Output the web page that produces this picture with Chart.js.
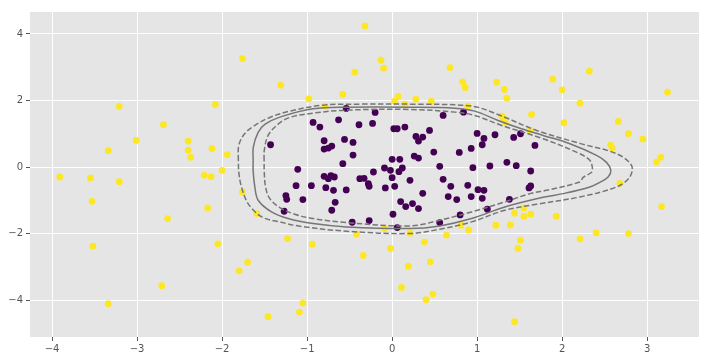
<!DOCTYPE html>
<html><head><meta charset="utf-8">
<script src="https://cdn.jsdelivr.net/npm/chart.js@4/dist/chart.umd.min.js"></script>
<style>html,body{margin:0;padding:0;background:#fff}canvas{display:block}</style>
</head><body>
<canvas id="c" width="709" height="361"></canvas>
<script>
const classA = [ // yellow
[-1.76,3.26],[-3.21,1.82],[-2.08,1.88],[-2.69,1.27],[-3.01,0.80],[-3.34,0.49],[-2.40,0.78],[-2.40,0.51],[-2.37,0.29],[-2.12,0.56],[-1.94,0.37],[-2.00,-0.10],
[-3.91,-0.30],[-3.55,-0.33],[-3.21,-0.44],[-2.21,-0.25],[-2.13,-0.29],[-3.53,-1.03],[-1.76,-0.75],[-2.17,-1.23],[-2.64,-1.55],[-1.59,-1.40],[-3.52,-2.38],[-2.05,-2.31],[-1.70,-2.86],[-1.80,-3.12],[-2.71,-3.57],[-3.34,-4.11],
[-0.32,4.24],[-0.13,3.21],[-0.10,2.97],[-0.44,2.85],[-1.31,2.46],[-0.58,2.19],[-0.98,2.05],[-0.79,1.83],[0.07,2.12],[0.03,1.98],[0.15,1.89],[0.28,2.04],[0.46,1.98],[0.68,2.99],[0.83,2.56],[0.86,2.39],[0.89,1.83],
[-1.23,-2.15],[-0.94,-2.32],[-0.42,-2.02],[-0.34,-2.66],[-0.09,-1.85],[-0.02,-2.45],[0.21,-1.99],[0.38,-2.25],[0.19,-2.98],[0.45,-2.85],[0.64,-2.05],[0.81,-1.75],[0.90,-1.89],[0.11,-3.62],[0.48,-3.82],[0.40,-3.99],[-1.05,-4.09],[-1.09,-4.36],[-1.46,-4.50],
[2.32,2.88],[1.89,2.64],[2.00,2.32],[2.21,1.92],[3.24,2.25],[1.23,2.55],[1.32,2.33],[1.35,2.07],[1.64,1.58],[2.02,1.33],[1.29,1.53],[1.31,1.46],[1.33,1.34],[1.62,1.10],[2.66,1.37],[2.78,1.00],[2.95,0.84],[2.57,0.66],[2.59,0.57],[3.16,0.29],[3.11,0.15],
[2.68,-0.49],[3.17,-1.19],[1.55,-1.23],[1.44,-1.39],[1.55,-1.48],[1.63,-1.42],[1.93,-1.48],[1.22,-1.75],[1.39,-1.74],[1.51,-2.20],[1.48,-2.45],[2.21,-2.16],[2.40,-1.98],[2.78,-2.00],[1.44,-4.65]
];
const classB = [ // purple
[-0.54,1.76],[-0.20,1.64],[0.60,1.55],[0.84,1.65],[-0.93,1.34],[-0.85,1.20],[-0.63,1.42],[-0.39,1.27],[-0.23,1.31],[0.02,1.15],[0.06,1.15],[0.15,1.20],[0.44,1.10],[1.00,1.01],[-1.43,0.67],[-0.80,0.79],[-0.80,0.54],[-0.75,0.57],[-0.71,0.63],[-0.56,0.83],[-0.46,0.74],[-0.46,0.36],[-0.58,0.10],[-1.11,-0.07],[0.28,0.92],[0.31,0.78],[0.36,0.90],[0.49,0.45],[0.26,0.33],[0.31,0.27],[0.00,0.23],[0.09,0.23],[0.79,0.44],[0.93,0.56],[0.56,0.02],[0.95,-0.02],
[-0.80,-0.28],[-0.75,-0.35],[-0.72,-0.26],[-0.68,-0.30],[-1.13,-0.56],[-0.95,-0.56],[-0.78,-0.62],[-0.69,-0.70],[-0.54,-0.69],[-0.38,-0.35],[-0.33,-0.34],[-0.28,-0.50],[-0.27,-0.58],[-0.22,-0.15],[-0.09,-0.03],[-0.02,-0.10],[0.08,-0.14],[0.12,-0.03],[0.00,-0.32],[-0.08,-0.63],[0.03,-0.58],[0.21,-0.40],[0.36,-0.79],[0.60,-0.37],[0.69,-0.58],[0.89,-0.55],[1.01,-0.68],[0.66,-0.89],[0.76,-0.98],[0.93,-0.89],[-1.25,-0.86],[-1.24,-0.97],[-1.05,-0.98],[-0.67,-1.06],[-1.27,-1.33],[-0.71,-1.30],[0.10,-1.04],[0.16,-1.19],[0.24,-1.10],[0.31,-1.25],[0.01,-1.42],[-0.47,-1.66],[-0.27,-1.61],[0.06,-1.82],[0.56,-1.67],[0.80,-1.44],
[1.08,0.86],[1.21,0.97],[1.43,0.89],[1.51,1.00],[1.06,0.67],[1.68,0.65],[1.15,0.03],[1.35,0.14],[1.46,0.04],[1.63,-0.12],
[1.08,-0.70],[1.06,-0.94],[1.61,-0.63],[1.63,-0.57],[1.38,-0.97],[1.12,-1.27]
];
const contourOuter = [
[-1.809,0.20],[-1.804,0.65],[-1.733,1.01],[-1.615,1.25],[-1.439,1.49],[-1.204,1.68],[-0.815,1.86],[-0.38,1.89],[0.208,1.89],[0.934,1.83],[1.244,1.58],[1.699,1.10],[2.208,0.71],[2.64,0.40],[2.816,0.05],[2.796,-0.30],[2.64,-0.60],[2.208,-0.90],[1.699,-1.12],[1.326,-1.30],[0.934,-1.65],[0.561,-1.87],[0.208,-2.00],[-0.536,-1.93],[-1.086,-1.78],[-1.321,-1.65],[-1.533,-1.50],[-1.694,-1.10],[-1.772,-0.60],[-1.804,-0.16],[-1.809,0.20]
];
const contourZero = [
[-1.635,0.20],[-1.633,0.60],[-1.576,1.04],[-1.498,1.28],[-1.321,1.50],[-0.929,1.75],[-0.536,1.80],[0.208,1.80],[0.738,1.77],[0.973,1.68],[1.247,1.40],[1.522,1.15],[1.776,0.95],[2.091,0.70],[2.405,0.35],[2.522,0.14],[2.573,-0.10],[2.541,-0.30],[2.444,-0.46],[2.326,-0.60],[2.012,-0.80],[1.776,-0.91],[1.326,-1.20],[0.934,-1.55],[0.561,-1.77],[0.208,-1.85],[-0.536,-1.80],[-0.929,-1.70],[-1.224,-1.55],[-1.419,-1.35],[-1.576,-1.00],[-1.615,-0.60],[-1.635,-0.10],[-1.635,0.20]
];
const contourInner = [
[-1.506,0.20],[-1.504,0.50],[-1.459,0.95],[-1.345,1.28],[-1.204,1.49],[-0.929,1.62],[-0.536,1.71],[0.208,1.73],[0.738,1.65],[0.973,1.55],[1.287,1.25],[1.776,0.85],[2.208,0.40],[2.326,0.20],[2.355,-0.01],[2.346,-0.16],[2.247,-0.31],[2.208,-0.45],[1.816,-0.70],[1.62,-0.80],[1.326,-1.05],[0.934,-1.35],[0.561,-1.60],[0.208,-1.77],[-0.536,-1.67],[-0.929,-1.55],[-1.145,-1.42],[-1.321,-1.22],[-1.439,-0.95],[-1.489,-0.60],[-1.504,-0.16],[-1.506,0.20]
];
const xTicks = [-4,-3,-2,-1,0,1,2,3];
const yTicks = [-4,-2,0,2,4];
const xRange = [-4.26, 3.61];
const yRange = [-5.11, 4.66];

const toPts = a => a.map(p => ({x:p[0], y:p[1]}));
const fmt = v => (v < 0 ? '\u2212' + Math.abs(v) : String(v));
const lineCol = '#767676';
const lineDs = (d, dash) => ({data: toPts(d), showLine: true, pointRadius: 0, borderColor: lineCol, borderWidth: 1.5, borderDash: dash, tension: 0.35, fill: false});

const bg = {id:'bg', beforeDraw(c){const {ctx, chartArea:a} = c; ctx.save(); ctx.fillStyle='#fff'; ctx.fillRect(0,0,c.width,c.height); ctx.fillStyle='#E5E5E5'; ctx.fillRect(a.left,a.top,a.right-a.left,a.bottom-a.top); ctx.restore();}};

new Chart(document.getElementById('c'), {
  type: 'scatter',
  data: { datasets: [
    lineDs(contourOuter, [5.5,2.5]),
    lineDs(contourZero, []),
    lineDs(contourInner, [5.5,2.5]),
    {data: toPts(classA), pointRadius: 3.4, pointBackgroundColor: '#FDE725', pointBorderWidth: 0, borderWidth: 0},
    {data: toPts(classB), pointRadius: 3.4, pointBackgroundColor: '#440154', pointBorderWidth: 0, borderWidth: 0}
  ]},
  options: {
    responsive: false, animation: false, devicePixelRatio: 1,
    layout: {padding: {top: 12, right: 10, left: 0, bottom: 0}},
    plugins: {legend: {display: false}, tooltip: {enabled: false}},
    scales: {
      x: {type: 'linear', min: xRange[0], max: xRange[1],
        afterBuildTicks: s => { s.ticks = xTicks.map(v => ({value: v})); },
        afterFit: s => { s.height = 24; },
        grid: {color: '#ffffff', lineWidth: 1, tickColor: '#555555', tickLength: 4, drawTicks: true},
        border: {display: false},
        ticks: {color: '#555555', font: {family: 'DejaVu Sans', size: 10}, padding: 2, callback: v => fmt(v), maxRotation: 0}
      },
      y: {type: 'linear', min: yRange[0], max: yRange[1],
        afterBuildTicks: s => { s.ticks = yTicks.map(v => ({value: v})); },
        afterFit: s => { s.width = 30; },
        grid: {color: '#ffffff', lineWidth: 1, tickColor: '#555555', tickLength: 4, drawTicks: true},
        border: {display: false},
        ticks: {color: '#555555', font: {family: 'DejaVu Sans', size: 10}, padding: 3, callback: v => fmt(v)}
      }
    }
  },
  plugins: [bg]
});
</script>
</body></html>
